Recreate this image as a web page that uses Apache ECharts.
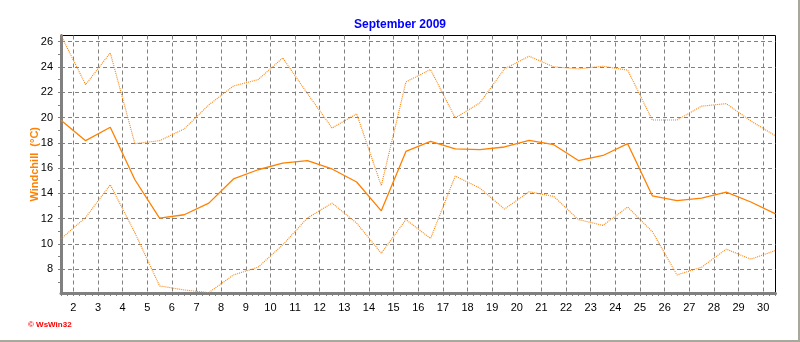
<!DOCTYPE html>
<html>
<head>
<meta charset="utf-8">
<script src="https://cdn.jsdelivr.net/npm/echarts@6/dist/echarts.min.js"></script>
<style>
html,body{margin:0;padding:0;background:#fff;}
#chart{width:800px;height:342px;}
</style>
</head>
<body>
<div id="chart"></div>
<script>
// Day positions (midday of each day of September 2009)
const dayPos = [1.5, 2.5, 3.5, 4.5, 5.5, 6.5, 7.5, 8.5, 9.5, 10.5, 11.5, 12.5, 13.5, 14.5, 15.5,
  16.5, 17.5, 18.5, 19.5, 20.5, 21.5, 22.5, 23.5, 24.5, 25.5, 26.5, 27.5, 28.5, 29.5, 30.5];
// Daily maximum windchill (dotted, upper)
const maxValues = [26.49, 22.6, 25.12, 17.93, 18.17, 19.1, 21.0, 22.5, 23.0, 24.72,
  21.9, 19.18, 20.29, 14.61, 22.82, 23.8, 19.97, 21.16, 23.85, 24.85,
  24.01, 23.85, 24.06, 23.75, 19.8, 19.8, 20.9, 21.1, 19.73, 18.55];
// Daily mean windchill (solid)
const meanValues = [19.78, 18.17, 19.23, 15.08, 12.05, 12.31, 13.23, 15.14, 15.87, 16.4,
  16.59, 15.93, 14.9, 12.62, 17.32, 18.12, 17.52, 17.46, 17.67, 18.2,
  17.85, 16.6, 17.0, 17.93, 13.81, 13.43, 13.62, 14.1, 13.32, 12.38];
// Daily minimum windchill (dotted, lower)
const minValues = [10.41, 12.1, 14.68, 10.88, 6.68, 6.36, 6.15, 7.55, 8.16, 9.93,
  12.05, 13.23, 11.65, 9.27, 11.93, 10.43, 15.37, 14.42, 12.76, 14.13,
  13.76, 11.93, 11.47, 12.92, 10.98, 7.55, 8.16, 9.59, 8.8, 9.48];
// Tick labels
const xTickLabels = [2, 3, 4, 5, 6, 7, 8, 9, 10, 11, 12, 13, 14, 15, 16, 17, 18, 19, 20,
  21, 22, 23, 24, 25, 26, 27, 28, 29, 30];
const yTickLabels = [8, 10, 12, 14, 16, 18, 20, 22, 24, 26];
const yMinorTicks = [7, 8, 9, 10, 11, 12, 13, 14, 15, 16, 17, 18, 19, 20, 21, 22, 23, 24, 25, 26];
const xMinorTicks = [];
for (let v = 1.5; v <= 30.5001; v += 0.25) xMinorTicks.push(+v.toFixed(2));

const title = 'September 2009';
const yName = 'Windchill  (°C)';

const yMin = Math.min(...minValues) - 0.03;
const yMax = Math.max(...maxValues);

const pairs = arr => arr.map((v, i) => [dayPos[i], v]);
const FONT = '"Liberation Sans", Arial, sans-serif';
const ORANGE = '#ff8000';
const GRIDC = '#808080';

const chart = echarts.init(document.getElementById('chart'), null, {renderer: 'canvas'});
chart.setOption({
  animation: false,
  backgroundColor: '#ffffff',
  title: {
    text: title, left: 'center', top: 14,
    textStyle: {fontFamily: FONT, fontSize: 12, fontWeight: 'bold', color: '#0000ff'}
  },
  grid: {
    left: 61, right: 24.5, top: 35.5, bottom: 49,
    show: true, borderColor: '#000000', borderWidth: 1, backgroundColor: 'transparent'
  },
  xAxis: [{
    type: 'value', min: 1.5, max: 30.5, position: 'bottom',
    axisLine: {show: true, onZero: false, lineStyle: {color: GRIDC, width: 3}},
    axisTick: {show: true, customValues: xTickLabels, length: 3, lineStyle: {color: GRIDC}},
    axisLabel: {customValues: xTickLabels, margin: 9, fontFamily: FONT, fontSize: 11, color: '#000'},
    splitLine: {show: true, lineStyle: {color: GRIDC, type: [4, 3], width: 1}}
  }, {
    type: 'value', min: 1.5, max: 30.5, position: 'bottom',
    axisLine: {show: false},
    axisTick: {show: true, customValues: xMinorTicks, length: 3, lineStyle: {color: GRIDC}},
    axisLabel: {show: false},
    splitLine: {show: false}
  }],
  yAxis: [{
    type: 'value', min: yMin, max: yMax, position: 'left',
    name: yName, nameLocation: 'middle', nameRotate: 90, nameGap: 21, nameMoveOverlap: false,
    nameTextStyle: {fontFamily: FONT, fontSize: 11, fontWeight: 'bold', color: ORANGE},
    axisLine: {show: true, onZero: false, lineStyle: {color: GRIDC, width: 3}},
    axisTick: {show: true, customValues: yTickLabels, length: 3, lineStyle: {color: GRIDC}},
    axisLabel: {customValues: yTickLabels, margin: 8, fontFamily: FONT, fontSize: 11, color: '#000'},
    splitLine: {show: true, lineStyle: {color: GRIDC, type: [4, 3], width: 1}}
  }, {
    type: 'value', min: yMin, max: yMax, position: 'left',
    axisLine: {show: false},
    axisTick: {show: true, customValues: yMinorTicks, length: 3, lineStyle: {color: GRIDC}},
    axisLabel: {show: false},
    splitLine: {show: false}
  }],
  series: [{
    name: 'max', type: 'line', data: pairs(maxValues), showSymbol: false, symbol: 'none',
    lineStyle: {color: ORANGE, width: 1.1, type: [1, 1]}, z: 3
  }, {
    name: 'mean', type: 'line', data: pairs(meanValues), showSymbol: false, symbol: 'none',
    lineStyle: {color: ORANGE, width: 1.3, type: 'solid'}, z: 3
  }, {
    name: 'min', type: 'line', data: pairs(minValues), showSymbol: false, symbol: 'none',
    lineStyle: {color: ORANGE, width: 1.1, type: [1, 1]}, z: 3
  }],
  graphic: [{
    type: 'text', left: 28, top: 321,
    style: {text: '© WsWin32', fill: '#ff0000', font: 'bold 8px ' + FONT}
  }, {
    type: 'rect', shape: {x: 0, y: 340, width: 800, height: 2}, style: {fill: '#a8a89c'}
  }, {
    type: 'rect', shape: {x: 798, y: 0, width: 2, height: 342}, style: {fill: '#a8a89c'}
  }]
});
</script>
</body>
</html>
